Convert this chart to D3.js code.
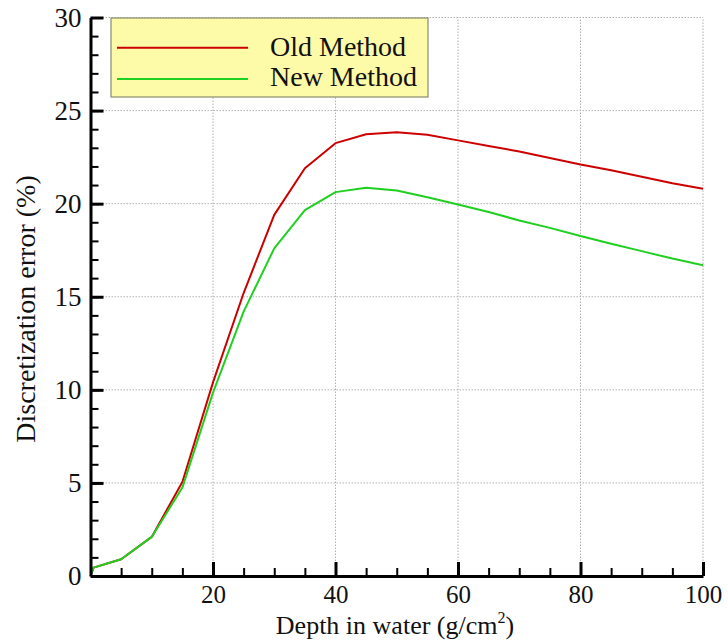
<!DOCTYPE html>
<html>
<head>
<meta charset="utf-8">
<script src="https://cdn.jsdelivr.net/npm/d3@7"></script>
<style>
  body { margin: 0; background: #fff; }
</style>
</head>
<body>
<div id="chart"></div>
<script>
// data
var depth = [0, 0.5, 5, 10, 15, 20, 25, 30, 35, 40, 45, 50, 55, 60, 65, 70, 75, 80, 85, 90, 95, 100]
var oldMethod = [0, 0.45, 0.9, 2.1, 5.05, 10.4, 15.2, 19.4, 21.9, 23.25, 23.73, 23.83, 23.7, 23.4, 23.1, 22.8, 22.45, 22.1, 21.8, 21.45, 21.1, 20.8]
var newMethod = [0, 0.45, 0.9, 2.1, 4.75, 9.85, 14.2, 17.6, 19.65, 20.62, 20.86, 20.71, 20.35, 19.96, 19.55, 19.1, 18.7, 18.26, 17.85, 17.45, 17.05, 16.69]
var xTicks = [20, 40, 60, 80, 100]
var yTicks = [0, 5, 10, 15, 20, 25, 30]
var seriesNames = ["Old Method", "New Method"]
var seriesColors = ["#cc0000", "#20d020"]

var serif = "'Liberation Serif', 'Times New Roman', Tinos, serif"

var width = 728,
  height = 643

var svg = d3
  .select("#chart")
  .append("svg")
  .attr("width", width)
  .attr("height", height)
  .attr("font-family", serif)

var x = d3.scaleLinear().domain([0, 100]).range([90.5, 703])
var y = d3.scaleLinear().domain([0, 30]).range([576, 17.5])

// dotted grid
svg
  .append("g")
  .selectAll("line")
  .data(xTicks)
  .enter()
  .append("line")
  .attr("x1", function (d) { return x(d) })
  .attr("x2", function (d) { return x(d) })
  .attr("y1", y(0))
  .attr("y2", y(30))
  .attr("stroke", "#b0b0b0")
  .attr("stroke-width", 1)
  .attr("stroke-dasharray", "1.5,1.5")

svg
  .append("g")
  .selectAll("line")
  .data(yTicks.filter(function (d) { return d > 0 }))
  .enter()
  .append("line")
  .attr("x1", x(0))
  .attr("x2", x(100))
  .attr("y1", function (d) { return y(d) })
  .attr("y2", function (d) { return y(d) })
  .attr("stroke", "#b0b0b0")
  .attr("stroke-width", 1)
  .attr("stroke-dasharray", "1.5,1.5")

// lines
var line = d3
  .line()
  .x(function (d) { return x(d[0]) })
  .y(function (d) { return y(d[1]) })

var series = [oldMethod, newMethod]
series.forEach(function (vals, i) {
  svg
    .append("path")
    .datum(depth.map(function (d, j) { return [d, vals[j]] }))
    .attr("fill", "none")
    .attr("stroke", seriesColors[i])
    .attr("stroke-width", 2)
    .attr("stroke-linejoin", "round")
    .attr("d", line)
})

// minor ticks
svg
  .append("g")
  .attr("transform", "translate(0," + y(0) + ")")
  .call(d3.axisBottom(x).tickValues(d3.range(5, 100, 5)).tickSizeInner(-8).tickSizeOuter(0).tickFormat(""))
  .call(function (g) { g.select(".domain").remove() })
  .selectAll("line").attr("stroke-width", 2)

svg
  .append("g")
  .attr("transform", "translate(" + x(0) + ",0)")
  .call(d3.axisLeft(y).tickValues(d3.range(1, 30, 1)).tickSizeInner(-8).tickSizeOuter(0).tickFormat(""))
  .call(function (g) { g.select(".domain").remove() })
  .selectAll("line").attr("stroke-width", 2)

// X axis
var xAxis = svg
  .append("g")
  .attr("transform", "translate(0," + y(0) + ")")
  .call(d3.axisBottom(x).tickValues(xTicks).tickSizeInner(-14).tickSizeOuter(0).tickPadding(9))
  .attr("font-family", serif)
  .attr("font-size", 25)
xAxis.select(".domain").attr("stroke-width", 3)
xAxis.selectAll(".tick line").attr("stroke-width", 3)
xAxis.selectAll("text").attr("fill", "#111")

// Y axis
var yAxis = svg
  .append("g")
  .attr("transform", "translate(" + x(0) + ",0)")
  .call(d3.axisLeft(y).tickValues(yTicks).tickSizeInner(-13).tickSizeOuter(0).tickPadding(9))
  .attr("font-family", serif)
  .attr("font-size", 27)
yAxis.select(".domain").attr("stroke-width", 3)
yAxis.selectAll(".tick line").attr("stroke-width", 3)
yAxis.selectAll("text").attr("fill", "#111")

// axis titles
var xTitle = svg
  .append("text")
  .attr("x", 395)
  .attr("y", 634)
  .attr("text-anchor", "middle")
  .attr("font-size", 26)
  .attr("fill", "#111")
xTitle.append("tspan").text("Depth in water (g/cm")
xTitle.append("tspan").attr("font-size", 16).attr("dy", -11).text("2")
xTitle.append("tspan").attr("dy", 11).text(")")

svg
  .append("text")
  .attr("transform", "translate(35,309) rotate(-90)")
  .attr("text-anchor", "middle")
  .attr("font-size", 28)
  .attr("fill", "#111")
  .text("Discretization error (%)")

// legend
var legend = svg.append("g")
legend
  .append("rect")
  .attr("x", 111)
  .attr("y", 18)
  .attr("width", 317)
  .attr("height", 79)
  .attr("fill", "#fdfaa8")
  .attr("stroke", "#8a8a70")
  .attr("stroke-width", 1.2)

seriesNames.forEach(function (name, i) {
  legend
    .append("line")
    .attr("x1", 117)
    .attr("x2", 248)
    .attr("y1", 47.7 + i * 31.3)
    .attr("y2", 47.7 + i * 31.3)
    .attr("stroke", seriesColors[i])
    .attr("stroke-width", 2)
  legend
    .append("text")
    .attr("x", 270)
    .attr("y", 56 + i * 30)
    .attr("font-size", 28)
    .attr("fill", "#111")
    .text(name)
})
</script>
</body>
</html>
